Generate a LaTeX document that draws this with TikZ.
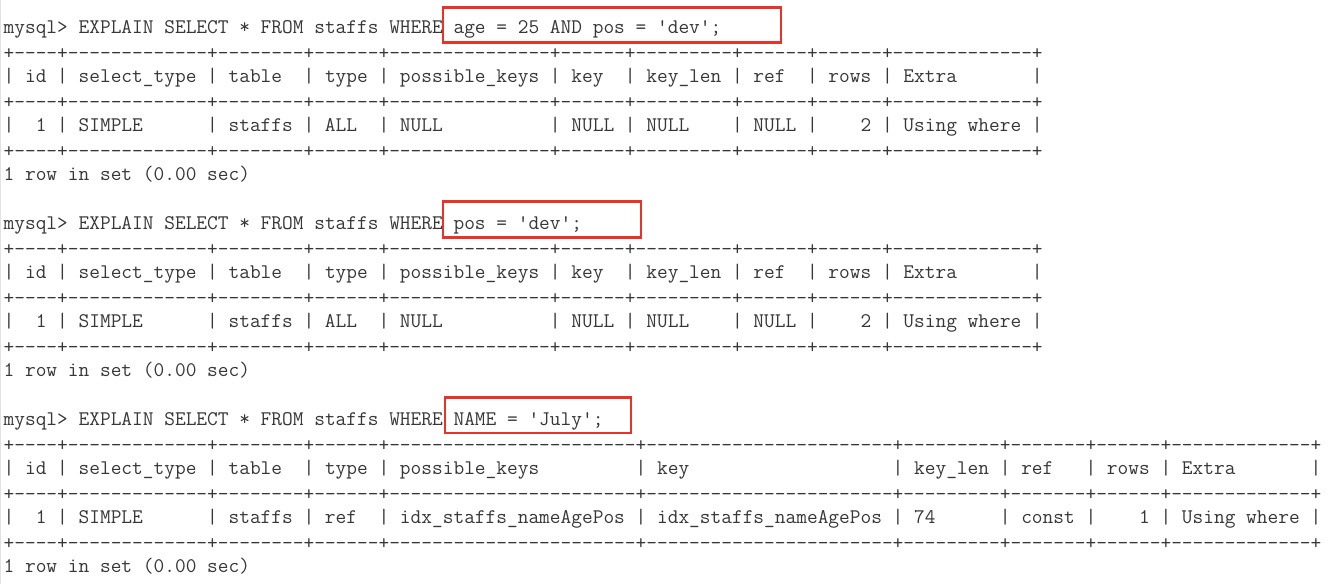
\documentclass[tikz,border=0pt]{standalone}
\definecolor{termtext}{RGB}{55,55,55}
\definecolor{hlred}{RGB}{232,51,43}
\definecolor{edgegray}{RGB}{226,226,226}
\newcommand\dsh[1]{\foreach\dshi in {1,...,#1}{-\kern0pt}}
\newcommand\sq{\textquotesingle}
\newcommand\bordA{+\dsh{4}+\dsh{13}+\dsh{8}+\dsh{6}+\dsh{15}+\dsh{6}+\dsh{9}+\dsh{6}+\dsh{6}+\dsh{13}+}
\newcommand\bordB{+\dsh{4}+\dsh{13}+\dsh{8}+\dsh{6}+\dsh{23}+\dsh{23}+\dsh{9}+\dsh{7}+\dsh{6}+\dsh{13}+}
\newcommand\headA{|~id~|~select\_type~|~table~~|~type~|~possible\_keys~|~key~~|~key\_len~|~ref~~|~rows~|~Extra~~~~~~~|}
\newcommand\rowA{|~~1~|~SIMPLE~~~~~~|~staffs~|~ALL~~|~NULL~~~~~~~~~~|~NULL~|~NULL~~~~|~NULL~|~~~~2~|~Using~where~|}
\newcommand\headB{|~id~|~select\_type~|~table~~|~type~|~possible\_keys~~~~~~~~~|~key~~~~~~~~~~~~~~~~~~~|~key\_len~|~ref~~~|~rows~|~Extra~~~~~~~|}
\newcommand\rowB{|~~1~|~SIMPLE~~~~~~|~staffs~|~ref~~|~idx\_staffs\_nameAgePos~|~idx\_staffs\_nameAgePos~|~74~~~~~~|~const~|~~~~1~|~Using~where~|}
\newcommand\doneline{1~row~in~set~(0.00~sec)}
\tikzset{
  term/.style={anchor=base west,inner sep=0pt,outer sep=0pt,text=termtext,
    font=\fontsize{20.8}{24.5}\selectfont\ttfamily},
  hlbox/.style={draw=hlred,line width=2.5pt},
}
\begin{document}
\begin{tikzpicture}[x=1pt,y=-1pt]
\useasboundingbox (0,0) rectangle (1334,584);
\fill[white] (0,0) rectangle (1334,584);
\draw[edgegray,line width=1pt] (0.5,0) -- (0.5,584);
% query 1
\node[term] (l0) at (3.65,33) {mysql>~EXPLAIN~SELECT~*~FROM~staffs~WHERE~age~=~25~AND~pos~=~\sq{}dev\sq{};};
\node[term] (l1) at (3.65,59.5) {\bordA};
\node[term] (l2) at (3.65,82) {\headA};
\node[term] (l3) at (3.65,108.5) {\bordA};
\node[term] (l4) at (3.65,131) {\rowA};
\node[term] (l5) at (3.65,157.5) {\bordA};
\node[term] (l6) at (3.65,180) {\doneline};
% query 2
\node[term] (l8) at (3.65,229) {mysql>~EXPLAIN~SELECT~*~FROM~staffs~WHERE~pos~=~\sq{}dev\sq{};};
\node[term] (l9) at (3.65,255.5) {\bordA};
\node[term] (l10) at (3.65,278) {\headA};
\node[term] (l11) at (3.65,304.5) {\bordA};
\node[term] (l12) at (3.65,327) {\rowA};
\node[term] (l13) at (3.65,353.5) {\bordA};
\node[term] (l14) at (3.65,376) {\doneline};
% query 3
\node[term] (l16) at (3.65,425) {mysql>~EXPLAIN~SELECT~*~FROM~staffs~WHERE~NAME~=~\sq{}July\sq{};};
\node[term] (l17) at (3.65,451.5) {\bordB};
\node[term] (l18) at (3.65,474) {\headB};
\node[term] (l19) at (3.65,500.5) {\bordB};
\node[term] (l20) at (3.65,523) {\rowB};
\node[term] (l21) at (3.65,549.5) {\bordB};
\node[term] (l22) at (3.65,572) {\doneline};
% highlight boxes
\draw[hlbox] (443,7.5) rectangle (781,42.5);
\draw[hlbox] (443,201.7) rectangle (641,237.7);
\draw[hlbox] (445,397.5) rectangle (631,433);
\end{tikzpicture}
\end{document}
